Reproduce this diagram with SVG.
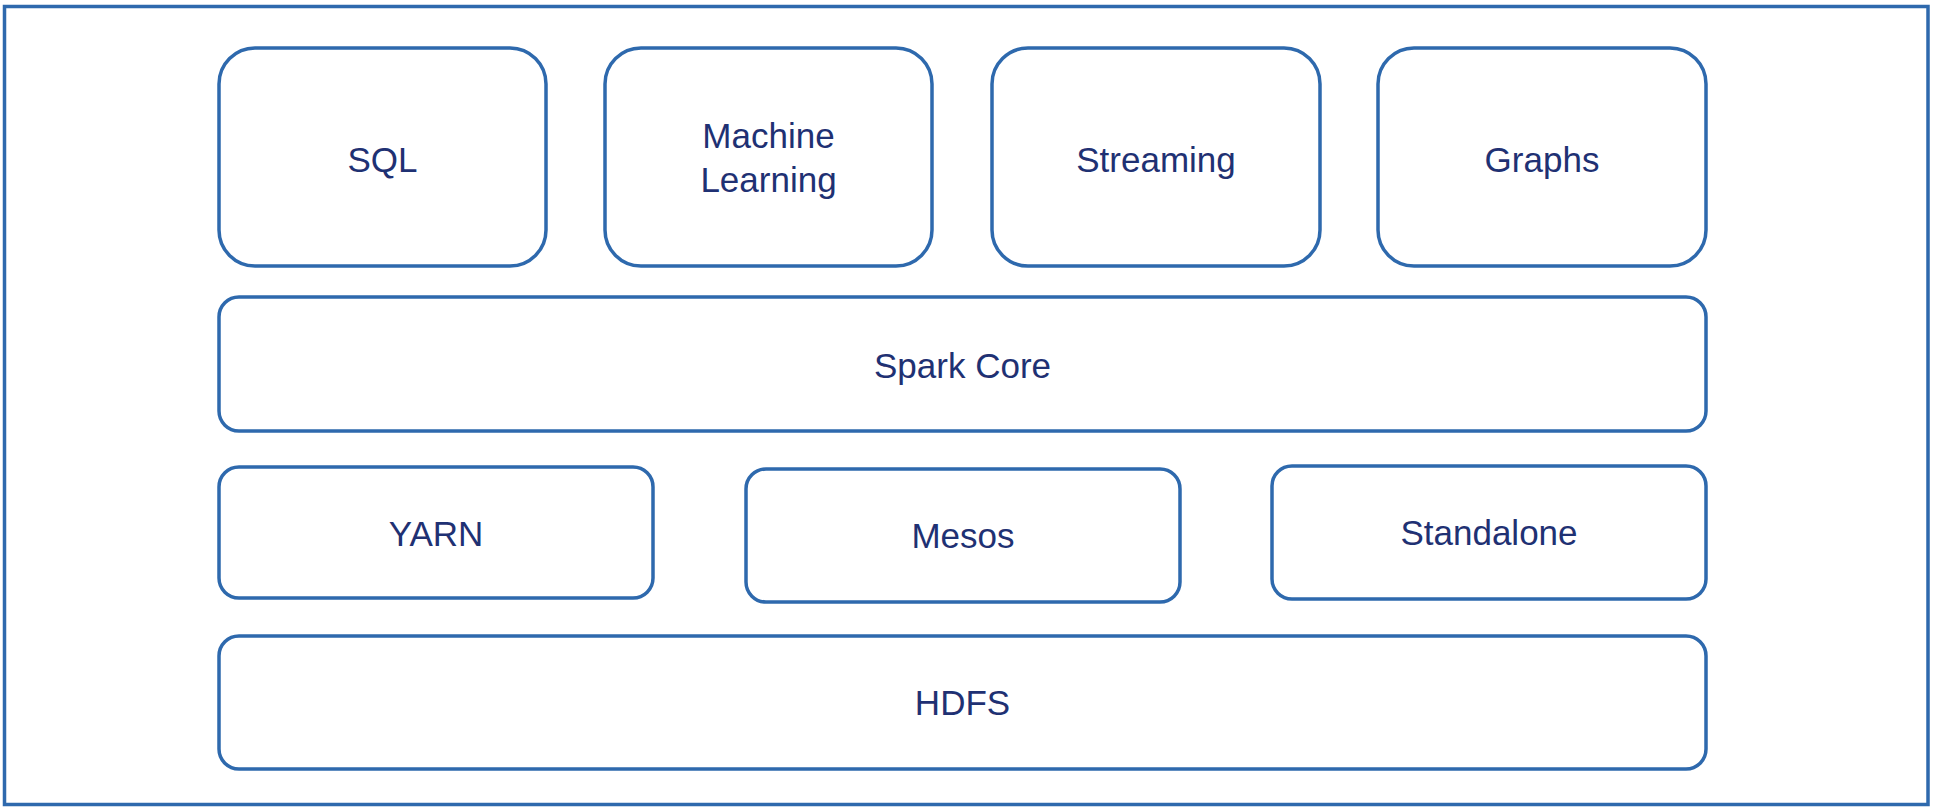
<svg xmlns="http://www.w3.org/2000/svg" width="1936" height="812" viewBox="0 0 1936 812">
  <style>
    .box { fill: #ffffff; stroke: #2e69ad; stroke-width: 3.5; }
    .lbl { font-family: "Liberation Sans", Arial, sans-serif; font-size: 35px; fill: #1f3173; text-anchor: middle; }
  </style>
  <rect x="0" y="0" width="1936" height="812" fill="#ffffff"/>
  <g id="frame">
    <rect x="4.5" y="6.5" width="1923.5" height="798" fill="none" stroke="#2e69ad" stroke-width="3.5"/>
  </g>
  <g id="connectors"></g>
  <g id="sql">
    <rect class="box" x="219" y="48" width="327" height="218" rx="36" ry="36"/>
    <text class="lbl" x="382.5" y="172">SQL</text>
  </g>
  <g id="machine-learning">
    <rect class="box" x="605" y="48" width="327" height="218" rx="36" ry="36"/>
    <text class="lbl" x="768.5" y="148">Machine</text>
    <text class="lbl" x="768.5" y="192">Learning</text>
  </g>
  <g id="streaming">
    <rect class="box" x="992" y="48" width="328" height="218" rx="36" ry="36"/>
    <text class="lbl" x="1156" y="172">Streaming</text>
  </g>
  <g id="graphs">
    <rect class="box" x="1378" y="48" width="328" height="218" rx="36" ry="36"/>
    <text class="lbl" x="1542" y="172">Graphs</text>
  </g>
  <g id="spark-core">
    <rect class="box" x="219" y="297" width="1487" height="134" rx="20" ry="20"/>
    <text class="lbl" x="962.5" y="378">Spark Core</text>
  </g>
  <g id="yarn">
    <rect class="box" x="219" y="467" width="434" height="131" rx="20" ry="20"/>
    <text class="lbl" x="436" y="546">YARN</text>
  </g>
  <g id="mesos">
    <rect class="box" x="746" y="469" width="434" height="133" rx="20" ry="20"/>
    <text class="lbl" x="963" y="548">Mesos</text>
  </g>
  <g id="standalone">
    <rect class="box" x="1272" y="466" width="434" height="133" rx="20" ry="20"/>
    <text class="lbl" x="1489" y="545">Standalone</text>
  </g>
  <g id="hdfs">
    <rect class="box" x="219" y="636" width="1487" height="133" rx="20" ry="20"/>
    <text class="lbl" x="962.5" y="715">HDFS</text>
  </g>
</svg>
